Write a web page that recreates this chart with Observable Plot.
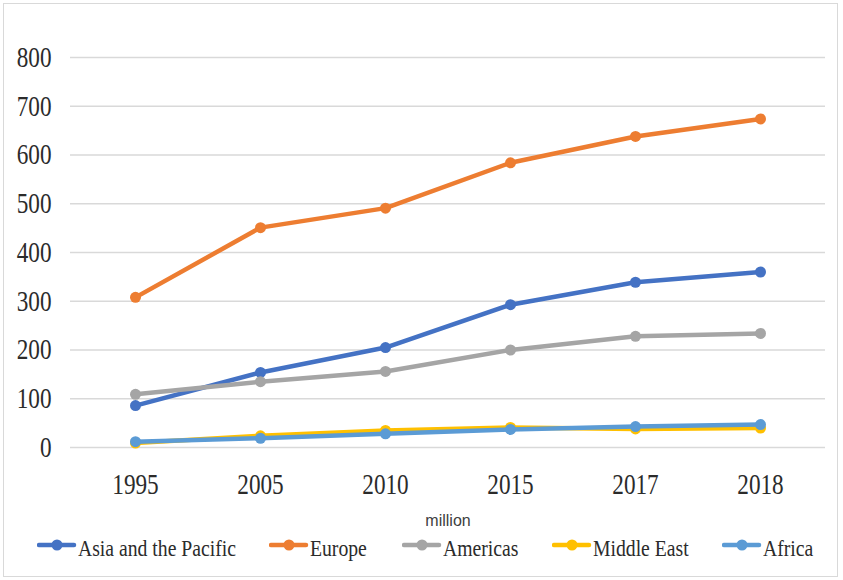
<!DOCTYPE html>
<html><head><meta charset="utf-8">
<script src="https://cdn.jsdelivr.net/npm/d3@7"></script>
<script src="https://cdn.jsdelivr.net/npm/@observablehq/plot@0.6"></script>
<style>
body{margin:0;background:#fff;width:843px;height:580px;overflow:hidden;position:relative;}
#frame{position:absolute;left:3px;top:3px;width:833px;height:572px;border:1px solid #d9d9d9;}
#chart{position:absolute;left:0;top:0;}
#chart svg, #chart svg text{font-family:"Liberation Serif","Times New Roman",serif !important;}
#chart svg text{font-size:29px;fill:#2b2b2b;}
#unit{position:absolute;left:398px;width:100px;text-align:center;top:512px;font-family:"Liberation Sans",Arial,sans-serif;font-size:16px;color:#404040;}
.item{position:absolute;top:535px;height:26px;font-family:"Liberation Serif","Times New Roman",serif;font-size:24px;line-height:26px;color:#2b2b2b;white-space:nowrap;}
.item svg{position:absolute;left:0;top:3px;}
.item span{position:absolute;left:41px;top:0;display:inline-block;transform:scaleX(0.82);transform-origin:0 50%;}
</style></head><body>
<div id="frame"></div>
<div id="chart"></div>
<div id="unit">million</div>
<div id="legend"></div>
<script>
const years = ["1995","2005","2010","2015","2017","2018"];
const seriesNames = ["Asia and the Pacific","Europe","Americas","Middle East","Africa"];
const seriesColors = ["#4472C4","#ED7D31","#A5A5A5","#FFC000","#5B9BD5"];
const asiaPacific = [86,154,205,293,339,360];
const europe = [308,451,491,584,638,674];
const americas = [109,135,156,200,228,234];
const middleEast = [9,24,35,41,38,40];
const africa = [12,19,28,37,43,47];
const yTicks = [0,100,200,300,400,500,600,700,800];

const allValues = [asiaPacific, europe, americas, middleEast, africa];
const data = [];
seriesNames.forEach((s,i)=>years.forEach((y,j)=>data.push({series:s, year:y, value:allValues[i][j]})));

const seriesMarks = seriesNames.flatMap(s => {
  const d = data.filter(r => r.series === s);
  return [
    Plot.lineY(d,{x:"year",y:"value",stroke:"series",strokeWidth:4.5,strokeLinejoin:"round"}),
    Plot.dot(d,{x:"year",y:"value",fill:"series",r:5.5})
  ];
});

const chart = Plot.plot({
  width:843, height:505,
  marginLeft:70, marginRight:18, marginTop:57, marginBottom:58,
  x:{type:"point", domain:years, padding:0.5},
  y:{domain:[0,800]},
  color:{domain:seriesNames, range:seriesColors},
  style:{fontFamily:"Liberation Serif, serif", fontSize:"29px", color:"#2b2b2b", background:"transparent"},
  marks:[
    Plot.gridY(yTicks,{stroke:"#d9d9d9", strokeOpacity:1, strokeWidth:1.5}),
    Plot.axisY(yTicks,{tickSize:0, tickPadding:19, label:null}),
    Plot.axisX({tickSize:0, tickPadding:26, label:null}),
    ...seriesMarks
  ]
});
document.getElementById("chart").appendChild(chart);

// horizontally condense axis labels (the reference uses a narrow serif)
chart.querySelectorAll("text").forEach(t => {
  const tr = t.getAttribute("transform");
  if (tr) {
    t.setAttribute("transform", tr + " scale(0.8,1)");
  } else {
    const x = +(t.getAttribute("x") || 0);
    t.setAttribute("transform", `translate(${x},0) scale(0.8,1) translate(${-x},0)`);
  }
});

const legendLeft = [37, 269, 402, 552, 722];
const legend = document.getElementById("legend");
seriesNames.forEach((s,i)=>{
  const div = document.createElement("div");
  div.className = "item";
  div.style.left = legendLeft[i] + "px";
  div.innerHTML = `<svg width="40" height="14"><line x1="2" y1="7" x2="37" y2="7" stroke="${seriesColors[i]}" stroke-width="4.5" stroke-linecap="round"/><circle cx="20" cy="7" r="5.5" fill="${seriesColors[i]}"/></svg><span>${s}</span>`;
  legend.appendChild(div);
});
</script>
</body></html>
